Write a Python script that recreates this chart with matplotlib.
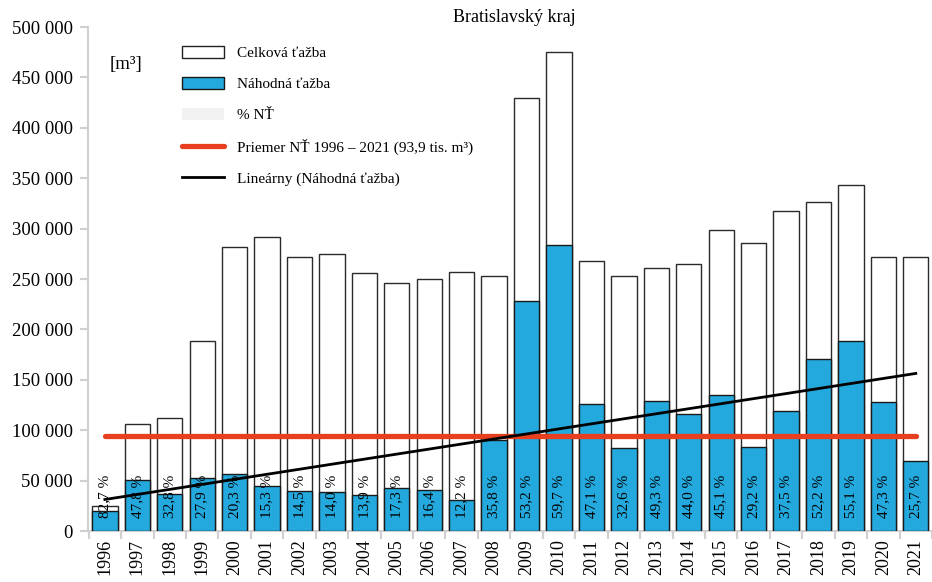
import numpy as np
import matplotlib
matplotlib.use("Agg")
import matplotlib.pyplot as plt
from matplotlib.patches import Patch
from matplotlib.lines import Line2D
from matplotlib.ticker import FuncFormatter

plt.rcParams['font.family'] = ['Liberation Serif', 'DejaVu Serif']

# data
roky = [str(r) for r in range(1996, 2022)]
celkova = [24500, 106100, 112400, 188500, 281700, 291600, 271800, 274800, 255900,
           246000, 250000, 256900, 253000, 429800, 475500, 267800, 253000, 261000,
           264900, 298600, 285700, 317400, 326400, 342900, 271800, 271800]
nahodna = [20000, 50500, 36600, 52800, 57000, 44500, 39200, 38300, 35500,
           42500, 40800, 31200, 90300, 228600, 283900, 126100, 82000, 128500,
           116400, 134500, 83200, 118800, 170400, 188800, 128400, 69800]
podiel = ["82,7 %", "47,8 %", "32,8 %", "27,9 %", "20,3 %", "15,3 %", "14,5 %",
          "14,0 %", "13,9 %", "17,3 %", "16,4 %", "12,2 %", "35,8 %", "53,2 %",
          "59,7 %", "47,1 %", "32,6 %", "49,3 %", "44,0 %", "45,1 %", "29,2 %",
          "37,5 %", "52,2 %", "55,1 %", "47,3 %", "25,7 %"]

modra = '#23a9dd'
cervena = '#e8401e'
seda = '#d0d0d0'

x = np.arange(len(roky))

fig = plt.figure(figsize=(9.32, 5.82), dpi=100)
ax = fig.add_axes([88/932, 51/582, 844/932, 504/582])

ax.bar(x, celkova, width=0.78, color='white', edgecolor='#2a2a2a', linewidth=1.0, zorder=2)
ax.bar(x, nahodna, width=0.78, color=modra, edgecolor='#1a1a1a', linewidth=1.0, zorder=3)

for i, t in enumerate(podiel):
    ax.text(x[i], 12500, t, rotation=90, ha='center', va='bottom',
            fontsize=11, zorder=5)

priemer = np.mean(nahodna)
ax.plot([x[0], x[-1]], [priemer, priemer], color=cervena, linewidth=3.8,
        solid_capstyle='round', zorder=4)

k, q = np.polyfit(x, nahodna, 1)
ax.plot([x[0], x[-1]], [q, k * x[-1] + q], color='black', linewidth=2.0, zorder=6)

ax.set_xlim(-0.52, 25.19)
ax.set_ylim(0, 500000)
ax.set_yticks(np.arange(0, 500001, 50000))
ax.yaxis.set_major_formatter(FuncFormatter(lambda v, p: f"{v:,.0f}".replace(",", " ")))
ax.set_xticks(x)
ax.set_xticklabels(roky, rotation=90)
ax.set_xticks(np.arange(-0.5, len(roky), 1), minor=True)
ax.tick_params(axis='x', which='major', length=0, pad=6, labelsize=13)
ax.tick_params(axis='x', which='minor', length=6, width=1.5, color=seda)
ax.tick_params(axis='y', length=6, width=1.5, color=seda, pad=5, labelsize=13.5)

for s in ['top', 'right']:
    ax.spines[s].set_visible(False)
for s in ['left', 'bottom']:
    ax.spines[s].set_color(seda)
    ax.spines[s].set_linewidth(1.5)

fig.text(514/932, 1 - 18/582, "Bratislavský kraj", ha='center', va='center', fontsize=13)
fig.text(126/932, 1 - 65/582, "[m³]", ha='center', va='center', fontsize=13.5)

handles = [
    Patch(facecolor='white', edgecolor='#222222', linewidth=1.0),
    Patch(facecolor=modra, edgecolor='#1a1a1a', linewidth=1.0),
    Patch(facecolor='#f2f2f2', edgecolor='none'),
    Line2D([0], [0], color=cervena, linewidth=3.8, solid_capstyle='round'),
    Line2D([0], [0], color='black', linewidth=2.0),
]
labels = ["Celková ťažba", "Náhodná ťažba", "% NŤ",
          "Priemer NŤ 1996 – 2021 (93,9 tis. m³)", "Lineárny (Náhodná ťažba)"]
fig.legend(handles, labels, loc='upper left', bbox_to_anchor=(182/932, 1 - 46/582),
           frameon=False, fontsize=11, borderpad=0, borderaxespad=0,
           handlelength=2.75, handleheight=0.8, handletextpad=0.85, labelspacing=1.1)

fig.savefig("out.png", dpi=100)
